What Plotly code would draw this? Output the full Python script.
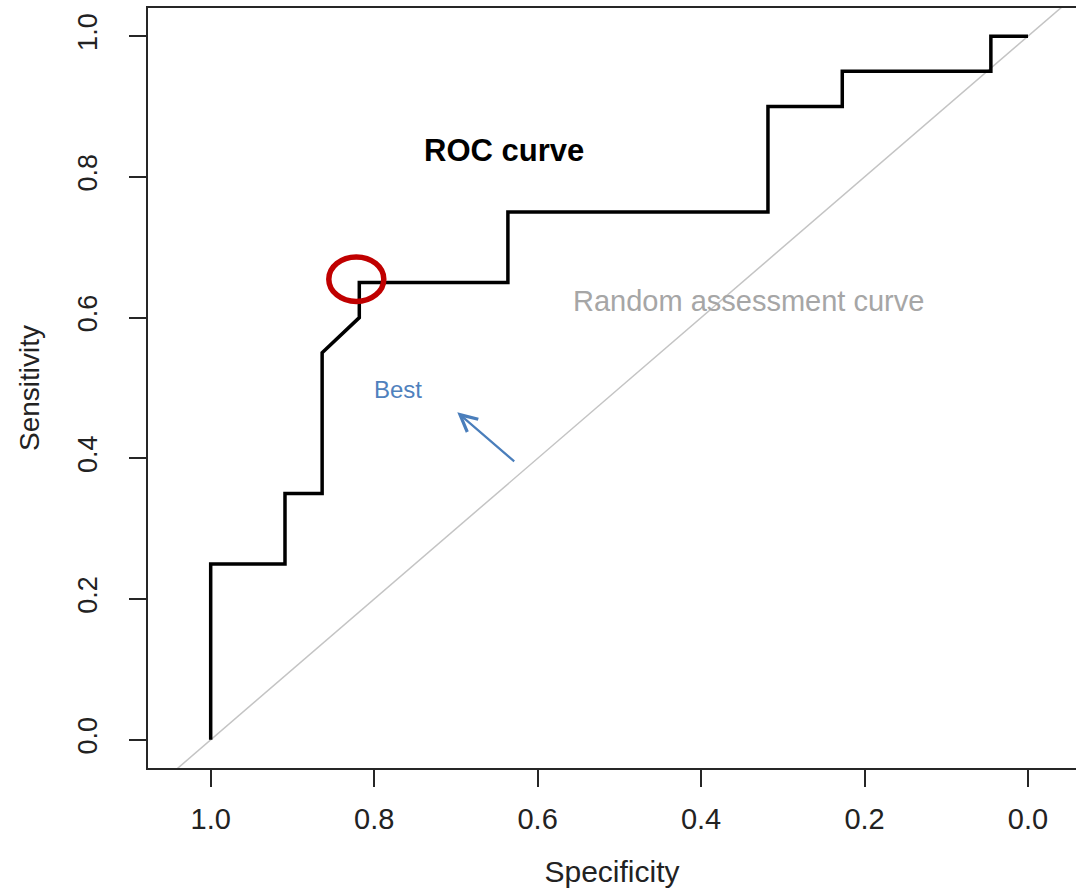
import plotly.graph_objects as go

# ROC curve data (specificity, sensitivity)
specificity = [1.0, 1.0, 20/22, 20/22, 19/22, 19/22, 18/22, 18/22, 14/22, 14/22,
               7/22, 7/22, 5/22, 5/22, 1/22, 1/22, 0.0]
sensitivity = [0.0, 0.25, 0.25, 0.35, 0.35, 0.55, 0.60, 0.65, 0.65, 0.75,
               0.75, 0.90, 0.90, 0.95, 0.95, 1.0, 1.0]
best_index = 7  # highlighted threshold point

tick_vals = [1.0, 0.8, 0.6, 0.4, 0.2, 0.0]
tick_text = ["1.0", "0.8", "0.6", "0.4", "0.2", "0.0"]
y_tick_vals = [0.0, 0.2, 0.4, 0.6, 0.8, 1.0]
y_tick_text = ["0.0", "0.2", "0.4", "0.6", "0.8", "1.0"]

x_range = [1.0767, -0.0587]
y_range = [-0.04, 1.04]

FONT = "Liberation Sans, Arial, sans-serif"
AX = "#262626"

# random assessment diagonal: sensitivity = 1 - specificity
diag_x = [x_range[0], x_range[1]]
diag_y = [1 - v for v in diag_x]

fig = go.Figure()
fig.add_trace(go.Scatter(x=diag_x, y=diag_y, mode="lines",
                         line=dict(color="#c4c4c4", width=1.5),
                         hoverinfo="skip", showlegend=False))
fig.add_trace(go.Scatter(x=specificity, y=sensitivity, mode="lines",
                         line=dict(color="black", width=3.5),
                         showlegend=False))

# red ellipse around the best point
bx, by = specificity[best_index], sensitivity[best_index]
fig.add_shape(type="circle", xref="x", yref="y",
              xsizemode="pixel", ysizemode="pixel",
              xanchor=bx, yanchor=by,
              x0=-30.5, x1=24.5, y0=-19, y1=25.5,
              line=dict(color="#c00000", width=5.5))

fig.add_annotation(x=0.6411, y=0.838, xref="x", yref="y", text="<b>ROC curve</b>",
                   showarrow=False, font=dict(family=FONT, size=31, color="black"))
fig.add_annotation(x=0.3417, y=0.6243, xref="x", yref="y", text="Random assessment curve",
                   showarrow=False, font=dict(family=FONT, size=29, color="#a6a6a6"))
fig.add_annotation(x=0.7712, y=0.4979, xref="x", yref="y", text="Best",
                   showarrow=False, font=dict(family=FONT, size=24, color="#4f81bd"))
fig.add_annotation(x=0.6983, y=0.4655, xref="x", yref="y",
                   ax=0.6268, ay=0.3939, axref="x", ayref="y", text="",
                   showarrow=True, arrowhead=5, arrowsize=1.5, arrowwidth=2.2,
                   arrowcolor="#4a7ebb")

fig.update_layout(
    width=1076, height=889,
    margin=dict(l=148, r=0, t=8, b=121),
    plot_bgcolor="white", paper_bgcolor="white",
    font=dict(family=FONT, color="#222"),
    xaxis=dict(range=x_range, tickvals=tick_vals, ticktext=tick_text,
               ticks="outside", ticklen=17, tickwidth=2, tickcolor=AX,
               showline=True, linewidth=2, linecolor=AX, mirror=True,
               showgrid=False, zeroline=False,
               tickfont=dict(family=FONT, size=29, color="#222"),
               ticklabelstandoff=7,
               title=dict(text="Specificity", font=dict(family=FONT, size=30, color="#222"),
                          standoff=27)),
    yaxis=dict(range=y_range, tickvals=y_tick_vals, ticktext=y_tick_text,
               ticks="outside", ticklen=17, tickwidth=2, tickcolor=AX,
               showline=True, linewidth=2, linecolor=AX, mirror=False,
               showgrid=False, zeroline=False, tickangle=-90,
               tickfont=dict(family=FONT, size=27, color="#222"),
               ticklabelstandoff=21,
               title=dict(text="Sensitivity", font=dict(family=FONT, size=28, color="#222"),
                          standoff=25)),
)

fig.write_html("out.html")
